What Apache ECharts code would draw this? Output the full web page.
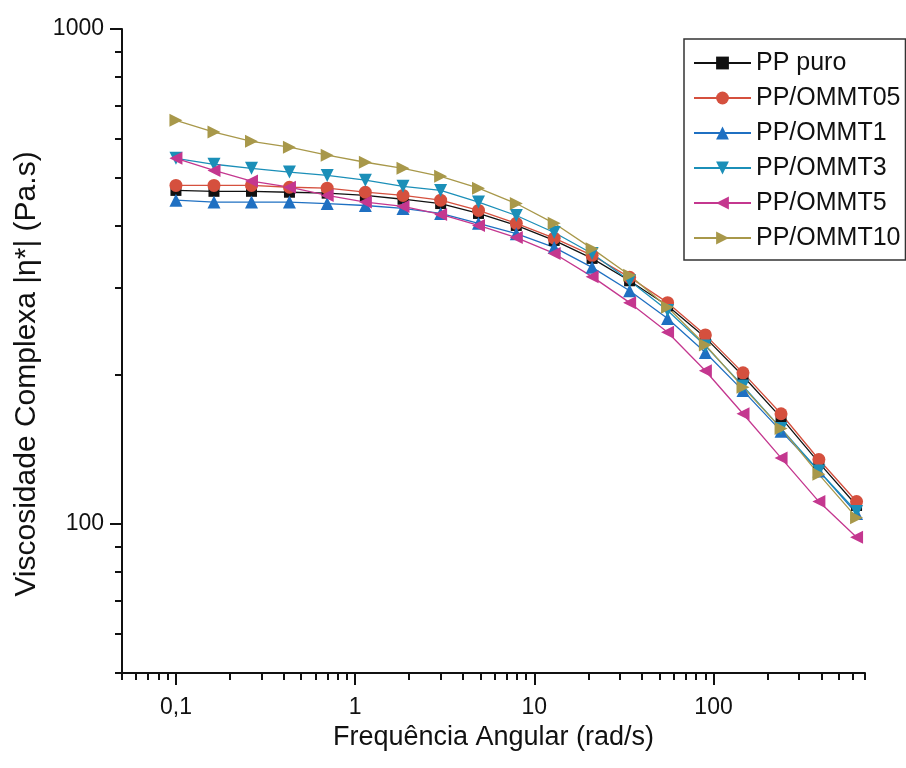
<!DOCTYPE html>
<html>
<head>
<meta charset="utf-8">
<script src="https://cdn.jsdelivr.net/npm/echarts@6/dist/echarts.min.js"></script>
<style>
html,body{margin:0;padding:0;background:#fff;}
#chart{width:906px;height:768px;}
</style>
</head>
<body>
<div id="chart"></div>
<script>
// Angular frequency (rad/s)
const freq = [0.1, 0.163, 0.264, 0.43, 0.698, 1.14, 1.85, 3, 4.88, 7.93, 12.9, 21, 34, 55.4, 90, 146, 238, 387, 628];
// |eta*| (Pa.s)
const ppPuro  = [472, 470, 470, 468, 466, 461, 453, 444, 424, 401, 374, 344, 310, 276, 238, 199, 164, 133, 109];
const ommt05  = [483, 483, 483, 479, 477, 468, 461, 451, 430, 405, 378, 349, 315, 280, 241, 202, 167, 135, 111];
const ommt1   = [451, 447, 447, 447, 444, 440, 434, 424, 405, 386, 362, 330, 296, 260, 222, 186, 154, 128, 105];
const ommt3   = [548, 533, 523, 514, 506, 495, 481, 472, 447, 420, 388, 352, 310, 270, 229, 190, 156, 128, 106];
const ommt5   = [548, 518, 493, 479, 461, 447, 438, 422, 401, 379, 352, 316, 280, 244, 204, 167, 136, 111, 94];
const ommt10  = [654, 619, 593, 577, 556, 538, 523, 504, 477, 444, 405, 360, 318, 274, 230, 189, 156, 126, 103];

const seriesNames = ['PP puro', 'PP/OMMT05', 'PP/OMMT1', 'PP/OMMT3', 'PP/OMMT5', 'PP/OMMT10'];
const seriesValues = [ppPuro, ommt05, ommt1, ommt3, ommt5, ommt10];

const xMajor = [0.1, 1, 10, 100];
const xMinor = [0.05, 0.06, 0.07, 0.08, 0.09, 0.2, 0.3, 0.4, 0.5, 0.6, 0.7, 0.8, 0.9, 2, 3, 4, 5, 6, 7, 8, 9, 20, 30, 40, 50, 60, 70, 80, 90, 200, 300, 400, 500, 600, 700];
const yMajor = [100, 1000];
const yMinor = [50, 60, 70, 80, 90, 200, 300, 400, 500, 600, 700, 800, 900];

const colors = ['#111111', '#d5503e', '#1f70c2', '#1b8fb8', '#c4378f', '#a8984a'];
const symbols = ['rect', 'circle', 'triangle', 'path://M0,0L10,0L5,10Z', 'path://M10,0L10,10L0,5Z', 'path://M0,0L10,5L0,10Z'];
const sizes = [11, 13, 13, 13, 13, 13];

const FONT = 'Liberation Sans, Arial, sans-serif';
const INK = '#111';

const chart = echarts.init(document.getElementById('chart'), null, {renderer: 'canvas'});

const fmtX = v => String(v).replace('.', ',');
const fmtY = v => String(Math.round(v));

const option = {
  backgroundColor: '#fff',
  animation: false,
  grid: {left: 122, right: 41, top: 29, bottom: 95, containLabel: false},
  legend: {
    orient: 'vertical',
    left: 684, top: 39,
    padding: [11, 5, 9, 9],
    itemGap: 9,
    itemWidth: 57, itemHeight: 16,
    borderColor: '#333', borderWidth: 1.5,
    backgroundColor: '#fff',
    textStyle: {fontSize: 25, color: INK, fontFamily: FONT, lineHeight: 26},
    data: seriesNames
  },
  xAxis: [
    {
      type: 'log', logBase: 10, min: 0.05, max: 700,
      name: 'Frequência Angular (rad/s)', nameLocation: 'middle', nameGap: 50,
      nameTextStyle: {fontSize: 27, color: INK, fontFamily: FONT},
      axisLine: {show: true, lineStyle: {color: INK, width: 2}},
      axisTick: {show: true, inside: false, length: 12, customValues: xMajor, lineStyle: {color: INK, width: 2}},
      axisLabel: {show: true, customValues: xMajor, formatter: fmtX, fontSize: 23, color: INK, fontFamily: FONT, margin: 23},
      splitLine: {show: false}, minorTick: {show: false}
    },
    {
      type: 'log', logBase: 10, min: 0.05, max: 700, position: 'bottom',
      axisLine: {show: false},
      axisTick: {show: true, inside: false, length: 7, customValues: xMinor, lineStyle: {color: INK, width: 2}},
      axisLabel: {show: false},
      splitLine: {show: false}
    }
  ],
  yAxis: [
    {
      type: 'log', logBase: 10, min: 50, max: 1000,
      name: 'Viscosidade Complexa |η*| (Pa.s)', nameLocation: 'middle', nameGap: 77,
      nameTextStyle: {fontSize: 30, color: INK, fontFamily: FONT, padding: [0, 46, 0, 0]},
      axisLine: {show: true, lineStyle: {color: INK, width: 2}},
      axisTick: {show: true, inside: false, length: 12, customValues: yMajor, lineStyle: {color: INK, width: 2}},
      axisLabel: {show: true, customValues: yMajor, formatter: fmtY, fontSize: 23, color: INK, fontFamily: FONT, margin: 18},
      splitLine: {show: false}
    },
    {
      type: 'log', logBase: 10, min: 50, max: 1000, position: 'left',
      axisLine: {show: false},
      axisTick: {show: true, inside: false, length: 7, customValues: yMinor, lineStyle: {color: INK, width: 2}},
      axisLabel: {show: false},
      splitLine: {show: false}
    }
  ],
  series: seriesNames.map((name, i) => ({
    name: name,
    type: 'line',
    xAxisIndex: 0, yAxisIndex: 0,
    data: freq.map((f, k) => [f, seriesValues[i][k]]),
    symbol: symbols[i],
    symbolSize: sizes[i],
    showAllSymbol: true,
    itemStyle: {color: colors[i]},
    lineStyle: {color: colors[i], width: 1.3},
    emphasis: {disabled: true}
  }))
};

chart.setOption(option);
</script>
</body>
</html>
